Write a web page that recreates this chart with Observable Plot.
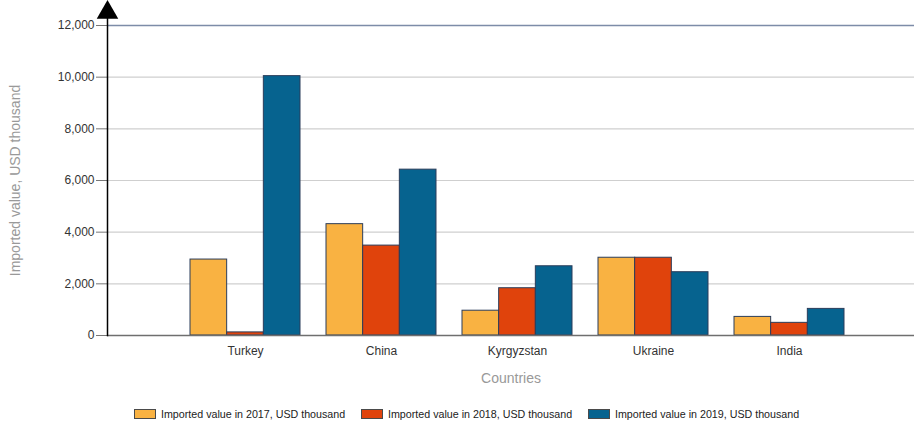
<!DOCTYPE html>
<html>
<head>
<meta charset="utf-8">
<script src="https://cdn.jsdelivr.net/npm/d3@7"></script>
<script src="https://cdn.jsdelivr.net/npm/@observablehq/plot@0.6"></script>
<style>
  html, body { margin: 0; padding: 0; background: #fff; }
  body { width: 915px; height: 425px; font-family: "Liberation Sans", Arial, sans-serif; }
  #chart svg { display: block; overflow: visible; }
  #legend { display: flex; padding-left: 134px; margin-top: 8px; font-size: 10.7px; color: #222; }
  .item { display: flex; align-items: center; width: 227px; }
  .sw { width: 20px; height: 8px; border: 1px solid #4a4a4a; margin-right: 5px; }
</style>
</head>
<body>
<div id="chart"></div>
<div id="legend"></div>
<script>
const countries = ["Turkey", "China", "Kyrgyzstan", "Ukraine", "India"];
const v2017 = [2940, 4310, 960, 3010, 720];
const v2018 = [120, 3480, 1830, 3010, 490];
const v2019 = [10040, 6420, 2680, 2450, 1030];
const seriesNames = [
  "Imported value in 2017, USD thousand",
  "Imported value in 2018, USD thousand",
  "Imported value in 2019, USD thousand"
];
const colors = ["#F9B242", "#E0430C", "#06638F"];
const yTicks = [0, 2000, 4000, 6000, 8000, 10000, 12000];

const rows = (vals) => countries.map((c, i) => ({country: c, value: vals[i]}));
const series = [rows(v2017), rows(v2018), rows(v2019)];

const bw = 110; // band width in px
const third = bw / 3;

const plot = Plot.plot({
  width: 915,
  height: 400,
  marginLeft: 107,
  marginRight: 1,
  marginTop: 25,
  marginBottom: 65,
  style: {fontFamily: "Liberation Sans, Arial, sans-serif", fontSize: "12px", color: "#333", overflow: "visible"},
  x: {domain: countries, range: [189, 845], paddingInner: 0.194, paddingOuter: 0, tickSize: 0, tickPadding: 11, label: null},
  y: {domain: [0, 12000], ticks: yTicks, tickFormat: d3.format(","), tickSize: 11, tickPadding: 2, label: null},
  marks: [
    Plot.ruleY(yTicks.filter(d => d > 0 && d < 12000), {stroke: "#cfcfcf", strokeWidth: 1.2}),
    Plot.ruleY([12000], {stroke: "#7d8ca8", strokeWidth: 1.6}),
    ...series.map((data, k) => Plot.barY(data, {
      x: "country", y: "value",
      fill: colors[k], stroke: "#2b3d5a", strokeWidth: 1,
      insetLeft: k * third, insetRight: (2 - k) * third
    })),
    Plot.ruleY([0], {stroke: "#6f6f6f", strokeWidth: 1.6}),
    Plot.frame({anchor: "left", stroke: "#000", strokeWidth: 1.5, insetTop: -10}),
    Plot.dot([0], {frameAnchor: "top-left", symbol: "triangle", r: 8, fill: "#000", stroke: "none", dy: -13}),
    Plot.text(["Countries"], {frameAnchor: "bottom", dy: 47, fill: "#999", fontSize: 14}),
    Plot.text(["Imported value, USD thousand"], {frameAnchor: "left", textAnchor: "middle", rotate: -90, dx: -92, fill: "#999", fontSize: 14})
  ]
});
document.getElementById("chart").append(plot);

// style axis tick lines gray
plot.querySelectorAll('[aria-label="y-axis tick"] path, [aria-label="y-axis"] line').forEach(el => el.setAttribute("stroke", "#777"));

const legend = document.getElementById("legend");
seriesNames.forEach((name, k) => {
  const item = document.createElement("div");
  item.className = "item";
  const sw = document.createElement("div");
  sw.className = "sw";
  sw.style.background = colors[k];
  const t = document.createElement("span");
  t.textContent = name;
  item.append(sw, t);
  legend.append(item);
});
</script>
</body>
</html>
